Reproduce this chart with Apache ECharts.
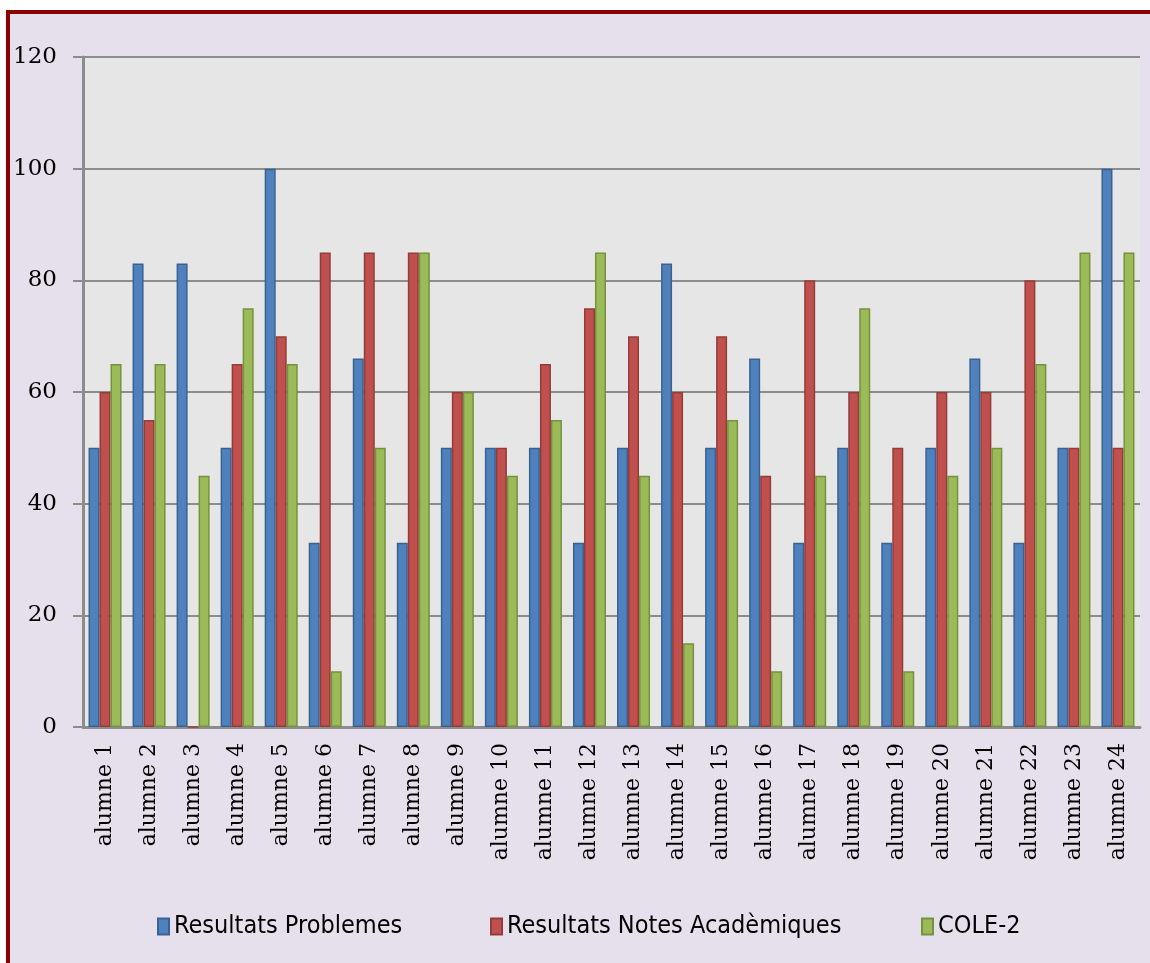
<!DOCTYPE html>
<html>
<head>
<meta charset="utf-8">
<script src="https://cdn.jsdelivr.net/npm/echarts@6/dist/echarts.min.js"></script>
<style>
  html, body { margin: 0; padding: 0; background: #ffffff; overflow: hidden; width: 1150px; height: 963px; }
  .frame {
    position: absolute;
    left: 6px;
    top: 10px;
    right: 0;
    bottom: 0;
    background: #e6dfec;
    border-left: 4px solid #8b0000;
    border-top: 4px solid #8b0000;
  }
  #chart { position: absolute; left: 0; top: 0; width: 1150px; height: 963px; }
</style>
</head>
<body>
<div class="frame"></div>
<div id="chart"></div>
<script>
const categories = [
  'alumne 1', 'alumne 2', 'alumne 3', 'alumne 4', 'alumne 5', 'alumne 6',
  'alumne 7', 'alumne 8', 'alumne 9', 'alumne 10', 'alumne 11', 'alumne 12',
  'alumne 13', 'alumne 14', 'alumne 15', 'alumne 16', 'alumne 17', 'alumne 18',
  'alumne 19', 'alumne 20', 'alumne 21', 'alumne 22', 'alumne 23', 'alumne 24'
]
const problemes = [50, 83, 83, 50, 100, 33, 66, 33, 50, 50, 50, 33, 50, 83, 50, 66, 33, 50, 33, 50, 66, 33, 50, 100]
const notes = [60, 55, 0, 65, 70, 85, 85, 85, 60, 50, 65, 75, 70, 60, 70, 45, 80, 60, 50, 60, 60, 80, 50, 50]
const cole = [65, 65, 45, 75, 65, 10, 50, 85, 60, 45, 55, 85, 45, 15, 55, 10, 45, 75, 10, 45, 50, 65, 85, 85]
const seriesNames = ['Resultats Problemes', 'Resultats Notes Acadèmiques', 'COLE-2']
const yTicks = { min: 0, max: 120, interval: 20 }

const colors = ['#4f81bd', '#c0504d', '#9bbb59']
const borders = ['#3a6291', '#943c3a', '#76923f']
const legendLeft = [157, 490, 921]

const serif = 'DejaVu Serif'
const narrow = 'DejaVu Sans Condensed, Liberation Sans Narrow, Liberation Sans'
const gray = '#8c8c8c'

const makeSeries = (name, data, i) => ({
  name,
  type: 'bar',
  data,
  barWidth: 11,
  barGap: '0%',
  itemStyle: {
    color: colors[i],
    borderColor: borders[i],
    borderWidth: 1.5
  }
})

const chart = echarts.init(document.getElementById('chart'))
chart.setOption({
  backgroundColor: 'transparent',
  animation: false,
  grid: {
    left: 83,
    right: 10,
    top: 57,
    bottom: 236,
    show: true,
    backgroundColor: '#e6e6e6',
    borderWidth: 0
  },
  legend: seriesNames.map((n, i) => ({
    data: [n],
    left: legendLeft[i],
    top: 914,
    itemWidth: 11,
    itemHeight: 16,
    itemGap: 0,
    icon: 'rect',
    padding: 0,
    textStyle: {
      fontFamily: narrow,
      fontSize: 25,
      color: '#000',
      padding: [0, 0, 0, 0]
    }
  })),
  xAxis: {
    type: 'category',
    data: categories,
    axisLine: { lineStyle: { color: gray, width: 3 } },
    axisTick: { length: 8, lineStyle: { color: gray, width: 2 } },
    axisLabel: {
      rotate: 90,
      interval: 0,
      margin: 16,
      fontFamily: serif,
      fontSize: 22,
      color: '#000'
    }
  },
  yAxis: {
    type: 'value',
    min: yTicks.min,
    max: yTicks.max,
    interval: yTicks.interval,
    axisLine: { show: true, lineStyle: { color: gray, width: 3 } },
    axisTick: { show: true, length: 10, lineStyle: { color: gray, width: 2 } },
    splitLine: { lineStyle: { color: gray, width: 2 } },
    axisLabel: {
      margin: 26,
      fontFamily: serif,
      fontSize: 23,
      color: '#000'
    }
  },
  series: [
    makeSeries(seriesNames[0], problemes, 0),
    makeSeries(seriesNames[1], notes, 1),
    makeSeries(seriesNames[2], cole, 2)
  ]
})
</script>
</body>
</html>
